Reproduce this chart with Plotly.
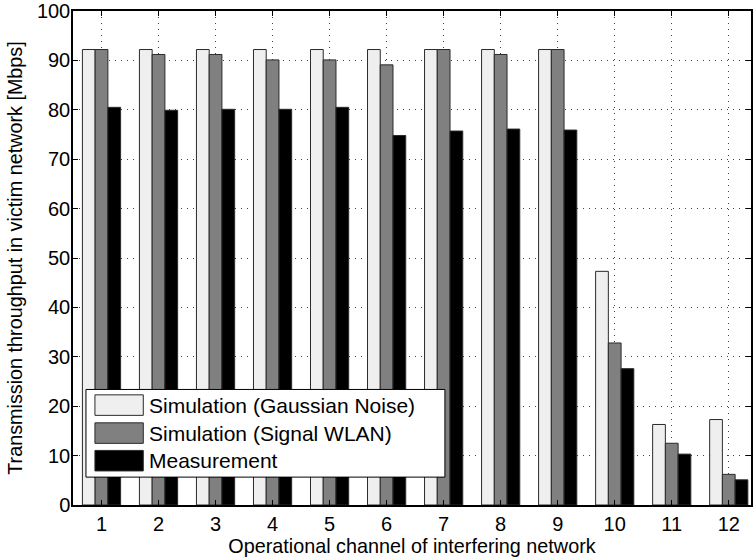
import plotly.graph_objects as go

# Throughput per operational channel of the interfering network
channels = [1, 2, 3, 4, 5, 6, 7, 8, 9, 10, 11, 12]
sim_gaussian = [92.2, 92.2, 92.2, 92.2, 92.2, 92.2, 92.2, 92.2, 92.2, 47.3, 16.3, 17.3]
sim_wlan = [92.2, 91.2, 91.2, 90.1, 90.1, 89.1, 92.2, 91.2, 92.2, 32.8, 12.5, 6.2]
measurement = [80.5, 79.9, 80.1, 80.1, 80.5, 74.8, 75.7, 76.1, 75.9, 27.6, 10.3, 5.1]

series_names = ["Simulation (Gaussian Noise)", "Simulation (Signal WLAN)", "Measurement"]
series_colors = ["#efefef", "#808080", "#000000"]
y_ticks = list(range(0, 101, 10))

FONT = "Liberation Sans, Arial, Helvetica, sans-serif"
W, H = 753, 559
L, R, T, B = 73, 0, 9, 54

fig = go.Figure()
for name, vals, col in zip(series_names, [sim_gaussian, sim_wlan, measurement], series_colors):
    fig.add_trace(go.Bar(
        x=channels, y=vals, name=name,
        marker=dict(color=col, line=dict(color="#2a2a2a", width=1)),
        showlegend=False,
    ))

# pixel -> paper helpers for the legend box
pw, ph = W - L - R, H - T - B
def px(x):
    return (x - L) / pw
def py(y):
    return (H - B - y) / ph

shapes = [dict(type="rect", xref="paper", yref="paper",
               x0=px(86), x1=px(446), y0=py(477), y1=py(389),
               fillcolor="white", line=dict(color="black", width=1), layer="above")]
annotations = []
row_centers = [404.7, 432.8, 460.5]
for name, col, yc in zip(series_names, series_colors, row_centers):
    shapes.append(dict(type="rect", xref="paper", yref="paper",
                       x0=px(95), x1=px(143.5), y0=py(yc + 10.3), y1=py(yc - 10.3),
                       fillcolor=col, line=dict(color="#2a2a2a", width=1), layer="above"))
    annotations.append(dict(xref="paper", yref="paper", x=px(147), y=py(yc),
                            xanchor="left", yanchor="middle", showarrow=False,
                            text=name, font=dict(family=FONT, size=21, color="black")))

grid_style = dict(showgrid=True, gridcolor="#444444", griddash="1px,5px", gridwidth=1)

fig.update_layout(
    width=W, height=H,
    margin=dict(l=L, r=R, t=T, b=B, pad=0),
    paper_bgcolor="white", plot_bgcolor="white",
    barmode="group", bargap=0.33, bargroupgap=0.0,
    font=dict(family=FONT, size=20, color="black"),
    shapes=shapes, annotations=annotations,
    xaxis=dict(
        range=[0.5, 12.39], tickmode="array", tickvals=channels,
        ticks="inside", ticklen=5, tickcolor="black",
        showline=True, linecolor="black", linewidth=1.5, mirror="ticks",
        zeroline=False, ticklabeloverflow="allow",
        title=dict(text="Operational channel of interfering network",
                   font=dict(size=19.8), standoff=2),
        **grid_style,
    ),
    yaxis=dict(
        range=[0, 100], tickmode="array", tickvals=y_ticks,
        ticks="inside", ticklen=5, tickcolor="black",
        showline=True, linecolor="black", linewidth=1.5, mirror="ticks",
        zeroline=False, ticklabeloverflow="allow", ticklabelstandoff=-3,
        title=dict(text="Transmission throughput in victim network [Mbps]",
                   font=dict(size=19.8), standoff=9),
        **grid_style,
    ),
)

fig.write_html("out.html")
